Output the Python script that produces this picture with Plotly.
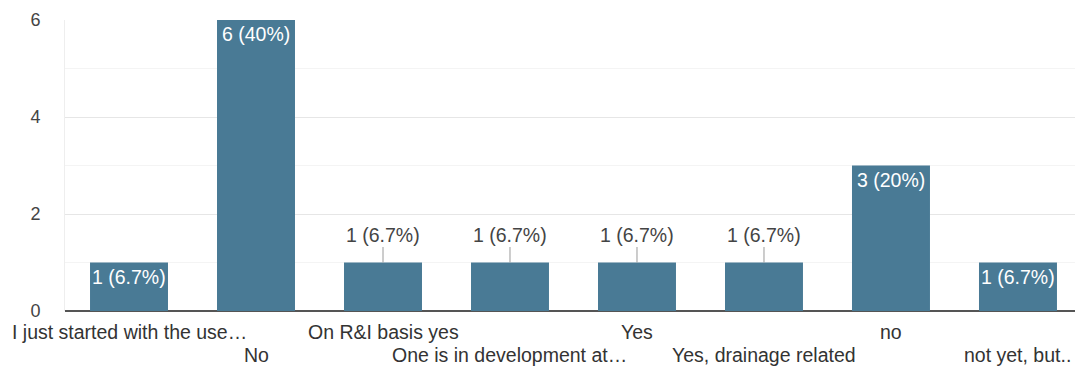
import plotly.graph_objects as go

# Survey responses: answer categories and respondent counts
categories = [
    "I just started with the use…",
    "No",
    "On R&I basis yes",
    "One is in development at…",
    "Yes",
    "Yes, drainage related",
    "no",
    "not yet, but..",
]
counts = [1, 6, 1, 1, 1, 1, 3, 1]
y_ticks = [0, 2, 4, 6]

total = sum(counts)
x_pos = list(range(len(categories)))

BAR_COLOR = "#497a95"
FONT = "Liberation Sans, Arial, sans-serif"
LABEL_SIZE = 19.5

# bars whose value label sits above the bar with a leader line
outside_labels = {2, 3, 4, 5}

fig = go.Figure()
fig.add_trace(
    go.Bar(
        x=x_pos,
        y=counts,
        width=0.614,
        marker=dict(color=BAR_COLOR, line=dict(width=0)),
        hoverinfo="skip",
    )
)

annotations = []
for i, (c, v) in enumerate(zip(categories, counts)):
    pct = v / total * 100
    pct_txt = f"{pct:.1f}".rstrip("0").rstrip(".")
    label = f"{v} ({pct_txt}%)"
    if i in outside_labels:
        annotations.append(
            dict(
                x=i, y=v, xref="x", yref="y", text=label,
                showarrow=True, arrowhead=0, arrowwidth=1, arrowcolor="#9a9a9a",
                ax=0, ay=-28,
                font=dict(family=FONT, size=LABEL_SIZE, color="#444444"),
            )
        )
    else:
        annotations.append(
            dict(
                x=i, y=v, xref="x", yref="y", text=label,
                showarrow=False, yanchor="top", yshift=-1,
                font=dict(family=FONT, size=LABEL_SIZE, color="#ffffff"),
            )
        )
    # category labels staggered over two rows
    annotations.append(
        dict(
            x=i, y=0, xref="x", yref="paper", text=c,
            showarrow=False, yanchor="top",
            yshift=-8 if i % 2 == 0 else -31,
            font=dict(family=FONT, size=LABEL_SIZE, color="#333333"),
        )
    )

fig.update_layout(
    width=1075,
    height=371,
    margin=dict(l=65, r=0, t=20, b=60),
    paper_bgcolor="white",
    plot_bgcolor="white",
    showlegend=False,
    annotations=annotations,
    xaxis=dict(
        range=[-0.504, 7.449],
        showticklabels=False,
        showgrid=False,
        zeroline=False,
        ticks="",
        fixedrange=True,
    ),
    yaxis=dict(
        range=[0, 6],
        tickvals=y_ticks,
        ticktext=[str(t) for t in y_ticks],
        tickfont=dict(family=FONT, size=18, color="#444444"),
        ticklabelstandoff=20,
        showgrid=True,
        gridcolor="#e6e6e6",
        gridwidth=1,
        minor=dict(tickvals=[1, 3, 5], showgrid=True, gridcolor="#f4f4f4", gridwidth=1),
        showline=True,
        linecolor="#eeeeee",
        linewidth=1,
        zeroline=True,
        zerolinecolor="#555555",
        zerolinewidth=1.5,
        ticks="",
        fixedrange=True,
    ),
)

fig.write_html("out.html")
